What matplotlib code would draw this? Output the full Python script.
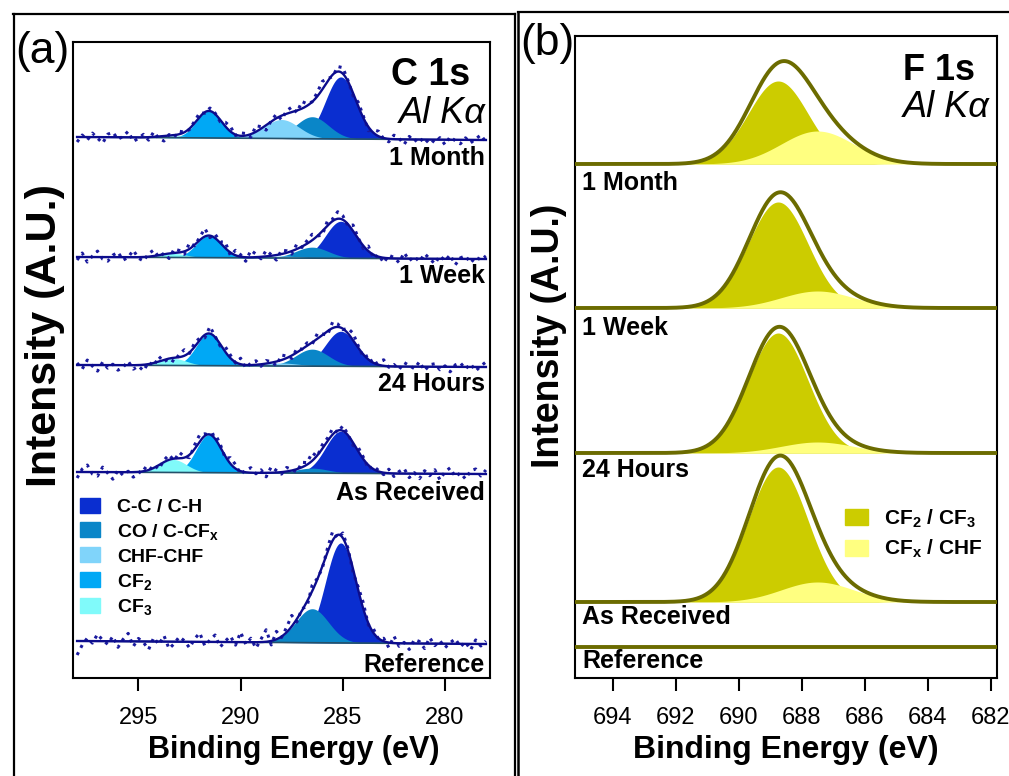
import numpy as np
import matplotlib.pyplot as plt
from matplotlib.patches import Patch
from matplotlib.lines import Line2D

plt.rcParams['font.family'] = ['Liberation Sans', 'DejaVu Sans']
plt.rcParams['mathtext.fontset'] = 'custom'
plt.rcParams['mathtext.rm'] = 'Liberation Sans'
plt.rcParams['mathtext.bf'] = 'Liberation Sans:bold'
plt.rcParams['mathtext.it'] = 'Liberation Sans:italic'

# ---------------- C 1s (panel a) ----------------
c_labels = ['1 Month', '1 Week', '24 Hours', 'As Received', 'Reference']
c_base_left = [541, 421, 313, 206, 37]
c_base_right = [538, 419, 311, 204, 34]

c_names = ['C-C / C-H', r'CO / C-CF$_\mathbf{x}$', 'CHF-CHF', r'CF$_\mathbf{2}$', r'CF$_\mathbf{3}$']
c_colors = ['#0a2ed0', '#0a86c8', '#80d4fa', '#00a8f5', '#80fafa']
c_center = [285.1, 286.5, 288.0, 291.55, 293.3]
c_sigma = [0.75, 0.8, 0.85, 0.62, 0.65]

# component heights for each spectrum, same order as c_names
c_heights = [
    [62, 22, 19, 27, 2],     # 1 Month
    [37, 11, 2, 22, 4],      # 1 Week
    [35, 17, 3, 32, 7],      # 24 Hours
    [42, 5, 0, 38, 13],      # As Received
    [100, 34, 0, 0, 0],      # Reference
]

# raw data scatter around the fit
c_noise = [
    [-5, 2, -3, 4, -1, -6, 3, 5, -2, 1, 6, -4, -1, 3, -3, 5, -2, -5, 1, -2,
     3, 0, -1, 2, 4, -1, 3, 1, -2, 4, 5, -1, 3, 2, -3, 6, 2, -5, 1, 4,
     -4, 3, 5, -2, 7, 2, 0, 4, 8, 3, -2, 5, 6, 1, -3, 4, 2, -4, 3, 5,
     -1, -3, 4, 1, -5, 3, -2, 2, -4, 1, -3, 2, -5, 3, -1, -4, 2, -3, 1, 5, -2],
    [-3, 4, -5, 1, 6, -2, -4, 2, 5, -3, 0, 7, -1, -4, 3, 6, -2, 1, -5, 4,
     2, -3, 6, -1, 3, 8, -2, 4, 1, 6, -3, 5, 2, -4, 7, 3, -2, 6, 1, -5,
     4, 2, -3, 5, -1, 3, 6, 0, -4, 5, 2, 7, 4, -2, 6, 1, -3, 5, -4, 2,
     -5, 3, 1, -4, 6, -2, 2, -3, 5, 0, -5, 3, -2, 4, -6, 1, 3, -4, 2, -1, 3],
    [2, -4, 5, -1, -6, 3, -3, 1, -5, -2, 4, -4, -1, -6, 2, -3, 5, -2, 0, -4,
     3, 6, -1, 4, 2, -3, 7, 1, -2, 5, 3, -1, 6, -3, 2, 4, -2, 3, 1, -4,
     5, 2, -3, 4, 0, 3, -2, 5, 1, -4, 6, 3, -1, 5, 7, 2, -3, 4, -2, 3,
     6, -1, 2, -3, 4, 1, -2, 5, -4, 2, 3, -3, 1, -5, 2, 4, -2, 3, -4, 1, 5],
    [-6, 3, 7, -2, -4, 5, -1, -7, 2, -3, 1, -5, -2, 4, -1, 3, -4, 2, 5, -2,
     6, 1, -3, 4, 7, 2, -1, 5, 3, -2, 6, 4, -3, 2, 5, -1, 3, -4, 6, 2,
     -2, 4, 1, -3, 5, 2, 8, -1, 4, 3, 6, -2, 5, 1, -3, 4, 2, -4, 3, 1,
     -2, 4, -3, 2, 5, -4, 1, -5, 3, -2, 4, -6, 2, 6, -3, 1, -5, 3, 5, -2, 4],
    [-14, -4, 3, -2, 7, 1, -3, 5, -6, 2, 8, -5, 3, -1, -8, 4, -3, 6, -7, -2,
     5, 1, -6, 3, 9, -4, 2, 7, -5, 1, 6, -3, 10, -2, 4, -6, 3, 12, -4, 8,
     -1, 5, 11, -3, 2, -5, 6, 1, -2, 4, 9, -3, 5, 2, -4, 3, 6, -2, 4, -1,
     3, -5, 7, -3, 1, -6, 4, 2, -5, 6, -2, 3, -4, 1, 5, -3, 2, -6, 4, -2, 3],
]
c_label_y = [520, 402, 294, 185, 13]

# ---------------- F 1s (panel b) ----------------
f_labels = ['1 Month', '1 Week', '24 Hours', 'As Received', 'Reference']
f_base = [514, 370, 225, 76, 31]
f_names = [r'CF$_\mathbf{2}$ / CF$_\mathbf{3}$', r'CF$_\mathbf{x}$ / CHF']
f_colors = ['#cccc00', '#ffff80']
f_center = [688.75, 687.5]
f_sigma = [0.95, 1.15]
f_heights = [
    [83, 33],
    [106, 17],
    [120, 11],
    [135, 20],
    [0, 0],
]
f_label_y = [495, 350, 208, 61, 17]


def gauss(x, c, h, s):
    return h * np.exp(-(x - c) ** 2 / (2 * s ** 2))


fig = plt.figure(figsize=(10.09, 7.76), dpi=100)
axa = fig.add_axes([73 / 1009, 98 / 776, 417 / 1009, 636 / 776])
axb = fig.add_axes([575 / 1009, 98 / 776, 422 / 1009, 642 / 776])

# panel a
for i in range(len(c_labels)):
    noise = np.array(c_noise[i], dtype=float)
    x = np.linspace(298.0, 278.0, len(noise))
    base = np.linspace(c_base_left[i], c_base_right[i], len(noise))
    xf = np.linspace(298.0, 278.0, 600)
    bf = np.linspace(c_base_left[i], c_base_right[i], 600)
    env = bf.copy()
    for k in range(len(c_names)):
        h = c_heights[i][k]
        env += gauss(xf, c_center[k], h, c_sigma[k])
        if h > 0:
            axa.fill_between(xf, bf, bf + gauss(xf, c_center[k], h, c_sigma[k]),
                             color=c_colors[k], lw=0, zorder=2)
    axa.plot(xf, bf, color='#24506a', lw=1.2, zorder=3)
    env_coarse = base.copy()
    for k in range(len(c_names)):
        env_coarse += gauss(x, c_center[k], c_heights[i][k], c_sigma[k])
    axa.plot(x, env_coarse + noise, ls=':', color='#1a1a9e', lw=2.2, zorder=4)
    axa.plot(xf, env, color='#0c0c8c', lw=1.7, zorder=5)
    axa.text(278.05, c_label_y[i], c_labels[i], ha='right', va='center',
             fontsize=18, fontweight='bold')

axa.set_xlim(298.2, 277.8)
axa.set_ylim(0, 636)
axa.set_xticks([295, 290, 285, 280])
axa.set_yticks([])
axa.tick_params(axis='x', direction='out', length=9, width=1.5, labelsize=17, pad=12)
for sp in axa.spines.values():
    sp.set_linewidth(1.5)
axa.set_xlabel('Binding Energy (eV)', fontsize=22, fontweight='bold', labelpad=4)
axa.xaxis.label.set_x(0.53)
axa.set_ylabel('Intensity (A.U.)', fontsize=31, fontweight='bold')
axa.yaxis.set_label_coords(-0.019, 0.539)
axa.text(0.952, 0.948, 'C 1s', transform=axa.transAxes, ha='right', va='center',
         fontsize=27, fontweight='bold')
axa.text(0.99, 0.887, 'Al K\u03b1', transform=axa.transAxes, ha='right', va='center',
         fontsize=26, style='italic')
handles = [Patch(color=c) for c in c_colors]
axa.legend(handles, c_names, loc='upper left', bbox_to_anchor=(-0.015, 0.305),
           frameon=False, prop={'weight': 'bold', 'size': 14},
           handlelength=1.0, handleheight=0.8, handletextpad=0.9, labelspacing=0.3,
           borderpad=0.2)

# panel b
for i in range(len(f_labels)):
    xf = np.linspace(695.2, 681.8, 600)
    bf = np.full_like(xf, f_base[i])
    env = bf.copy()
    for k in range(len(f_names)):
        h = f_heights[i][k]
        env += gauss(xf, f_center[k], h, f_sigma[k])
        if h > 0:
            axb.fill_between(xf, bf, bf + gauss(xf, f_center[k], h, f_sigma[k]),
                             color=f_colors[k], lw=0, zorder=2)
    axb.plot(xf, env, color='#6b6b00', lw=2.8, zorder=5)
    axb.text(694.98, f_label_y[i], f_labels[i], ha='left', va='center',
             fontsize=18, fontweight='bold')

axb.set_xlim(695.2, 681.8)
axb.set_ylim(0, 642)
axb.set_xticks([694, 692, 690, 688, 686, 684, 682])
axb.set_yticks([])
axb.tick_params(axis='x', direction='out', length=9, width=1.5, labelsize=17, pad=12)
for sp in axb.spines.values():
    sp.set_linewidth(1.5)
axb.set_xlabel('Binding Energy (eV)', fontsize=23, fontweight='bold', labelpad=4)
axb.set_ylabel('Intensity (A.U.)', fontsize=27, fontweight='bold')
axb.yaxis.set_label_coords(-0.019, 0.533)
axb.text(0.948, 0.947, 'F 1s', transform=axb.transAxes, ha='right', va='center',
         fontsize=26, fontweight='bold')
axb.text(0.983, 0.889, 'Al K\u03b1', transform=axb.transAxes, ha='right', va='center',
         fontsize=26, style='italic')
handles = [Patch(color=c) for c in f_colors]
axb.legend(handles, f_names, loc='upper left', bbox_to_anchor=(0.605, 0.288),
           frameon=False, prop={'weight': 'bold', 'size': 15},
           handlelength=1.1, handleheight=0.8, handletextpad=0.8, labelspacing=0.38,
           borderpad=0.2)

# panel frames and letters
W, H = 1009, 776
def fline(x0, y0, x1, y1, lw):
    fig.add_artist(Line2D([x0 / W, x1 / W], [1 - y0 / H, 1 - y1 / H],
                          transform=fig.transFigure, color='black', lw=lw))

fline(13.5, 14, 13.5, 776, 1.6)
fline(13, 14, 515, 14, 1.6)
fline(515, 14, 515, 776, 1.6)
fline(518, 12, 518, 776, 1.8)
fline(518, 12, 1009, 12, 1.6)

fig.text(15 / W, 1 - 52 / H, '(a)', fontsize=32, ha='left', va='center')
fig.text(520 / W, 1 - 44 / H, '(b)', fontsize=32, ha='left', va='center')

fig.savefig('out.png', dpi=100)
